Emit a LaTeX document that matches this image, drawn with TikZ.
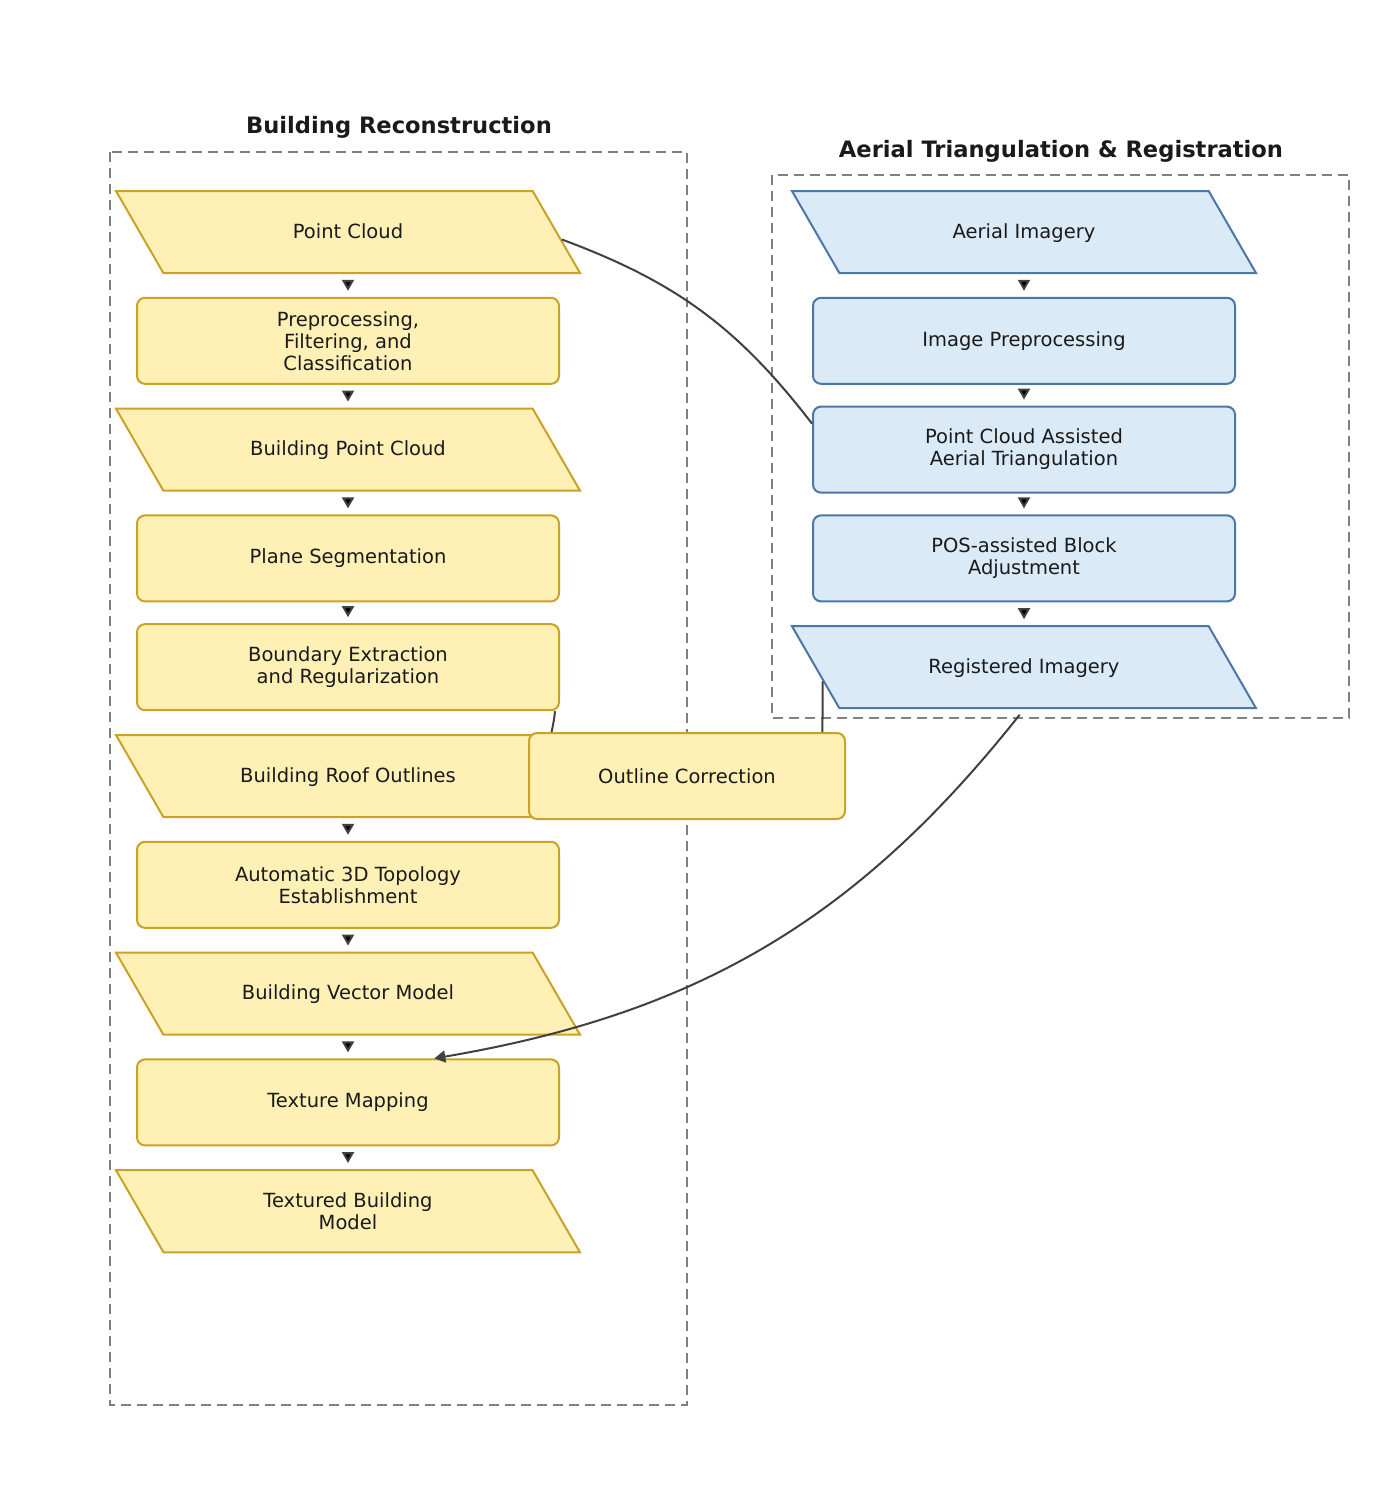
\documentclass[tikz,border=0pt]{standalone}
\usepackage{fontspec}
\setmainfont{DejaVu Sans}
\usetikzlibrary{positioning, arrows.meta, shapes.geometric}

\definecolor{datafill}{HTML}{FFF0B5}
\definecolor{dataline}{HTML}{C9A227}
\definecolor{imgfill}{HTML}{DAEAF6}
\definecolor{imgline}{HTML}{4A77A8}
\definecolor{flowgray}{HTML}{404040}
\definecolor{boxgray}{HTML}{808080}
\definecolor{inkblack}{HTML}{1A1A1A}

\tikzset{
  base/.style={align=center, text=inkblack, font=\fontsize{9.75}{11}\selectfont, line width=1pt, inner sep=2pt},
  pcdata/.style={base, trapezium, trapezium left angle=120, trapezium right angle=60,
    trapezium stretches body, minimum width=232pt, text height=8pt, text depth=2pt,
    inner ysep=15.5pt, draw=dataline, fill=datafill},
  pcstep/.style={base, rectangle, rounded corners=4pt, minimum width=211pt, minimum height=43pt,
    draw=dataline, fill=datafill},
  imgdata/.style={pcdata, draw=imgline, fill=imgfill},
  imgstep/.style={pcstep, draw=imgline, fill=imgfill},
  twolines/.style={text height=, text depth=, inner ysep=11.3pt},
  groupbox/.style={draw=boxgray, line width=0.8pt, dash pattern=on 5pt off 3pt},
  grouptitle/.style={anchor=base, text=inkblack, font=\fontsize{11.3}{13}\selectfont\bfseries},
  flow/.style={draw=flowgray, line width=1pt, -{Triangle[width=6pt,length=5.5pt]},
    shorten <=3pt, shorten >=3pt},
  link/.style={draw=flowgray, line width=1pt},
}

\begin{document}
\begin{tikzpicture}[node distance=54.4pt]
    \useasboundingbox (0pt,0pt) rectangle (700pt,-753pt);

    % group frames
    \draw[groupbox] (55pt,-76pt) rectangle (343.5pt,-702.5pt);
    \node[grouptitle] (recontitle) at (199.5pt,-66.8pt) {Building Reconstruction};
    \draw[groupbox] (386pt,-87.5pt) rectangle (674.5pt,-359pt);
    \node[grouptitle] (atrtitle) at (530.5pt,-78.8pt) {Aerial Triangulation \& Registration};

    % building reconstruction
    \node[pcdata] (pc) at (174pt,-116pt) {Point Cloud};
    \node[pcstep] (prep) [below of=pc] {Preprocessing,\\Filtering, and\\Classification};
    \node[pcdata] (bpc) [below of=prep] {Building Point Cloud};
    \node[pcstep] (plane) [below of=bpc] {Plane Segmentation};
    \node[pcstep] (bound) [below of=plane] {Boundary Extraction\\and Regularization};
    \node[pcdata] (roof) [below of=bound] {Building Roof Outlines};
    \node[pcstep] (topo) [below of=roof] {Automatic 3D Topology\\Establishment};
    \node[pcdata] (vector) [below of=topo] {Building Vector Model};
    \node[pcstep] (texmap) [below of=vector] {Texture Mapping};
    \node[pcdata, twolines] (textured) [below of=texmap] {Textured Building\\Model};

    % aerial triangulation & registration
    \node[imgdata] (aerial) at (512pt,-116pt) {Aerial Imagery};
    \node[imgstep] (imgprep) [below of=aerial] {Image Preprocessing};
    \node[imgstep] (pcaat) [below of=imgprep] {Point Cloud Assisted\\Aerial Triangulation};
    \node[imgstep] (pos) [below of=pcaat] {POS-assisted Block\\Adjustment};
    \node[imgdata] (reg) [below of=pos] {Registered Imagery};

    \node[pcstep, minimum width=158pt] (outcorr) [right of=roof, node distance=169.5pt] {Outline Correction};

    \path[flow] (pc) edge (prep)
          (prep) edge (bpc)
          (bpc) edge (plane)
          (plane) edge (bound)
          (roof) edge (topo)
          (topo) edge (vector)
          (vector) edge (texmap)
          (texmap) edge (textured)
          (aerial) edge (imgprep)
          (imgprep) edge (pcaat)
          (pcaat) edge (pos)
          (pos) edge (reg);

    \path[link] (pc.-2) edge [bend left=16] (pcaat.173)
          (bound.-12) edge [bend left=3] (outcorr.162)
          (reg.184) edge (outcorr.18);
    \draw[flow, shorten >=0pt, shorten <=3.5pt] (reg.south) to [bend left=21] (texmap.27);
\end{tikzpicture}
\end{document}
